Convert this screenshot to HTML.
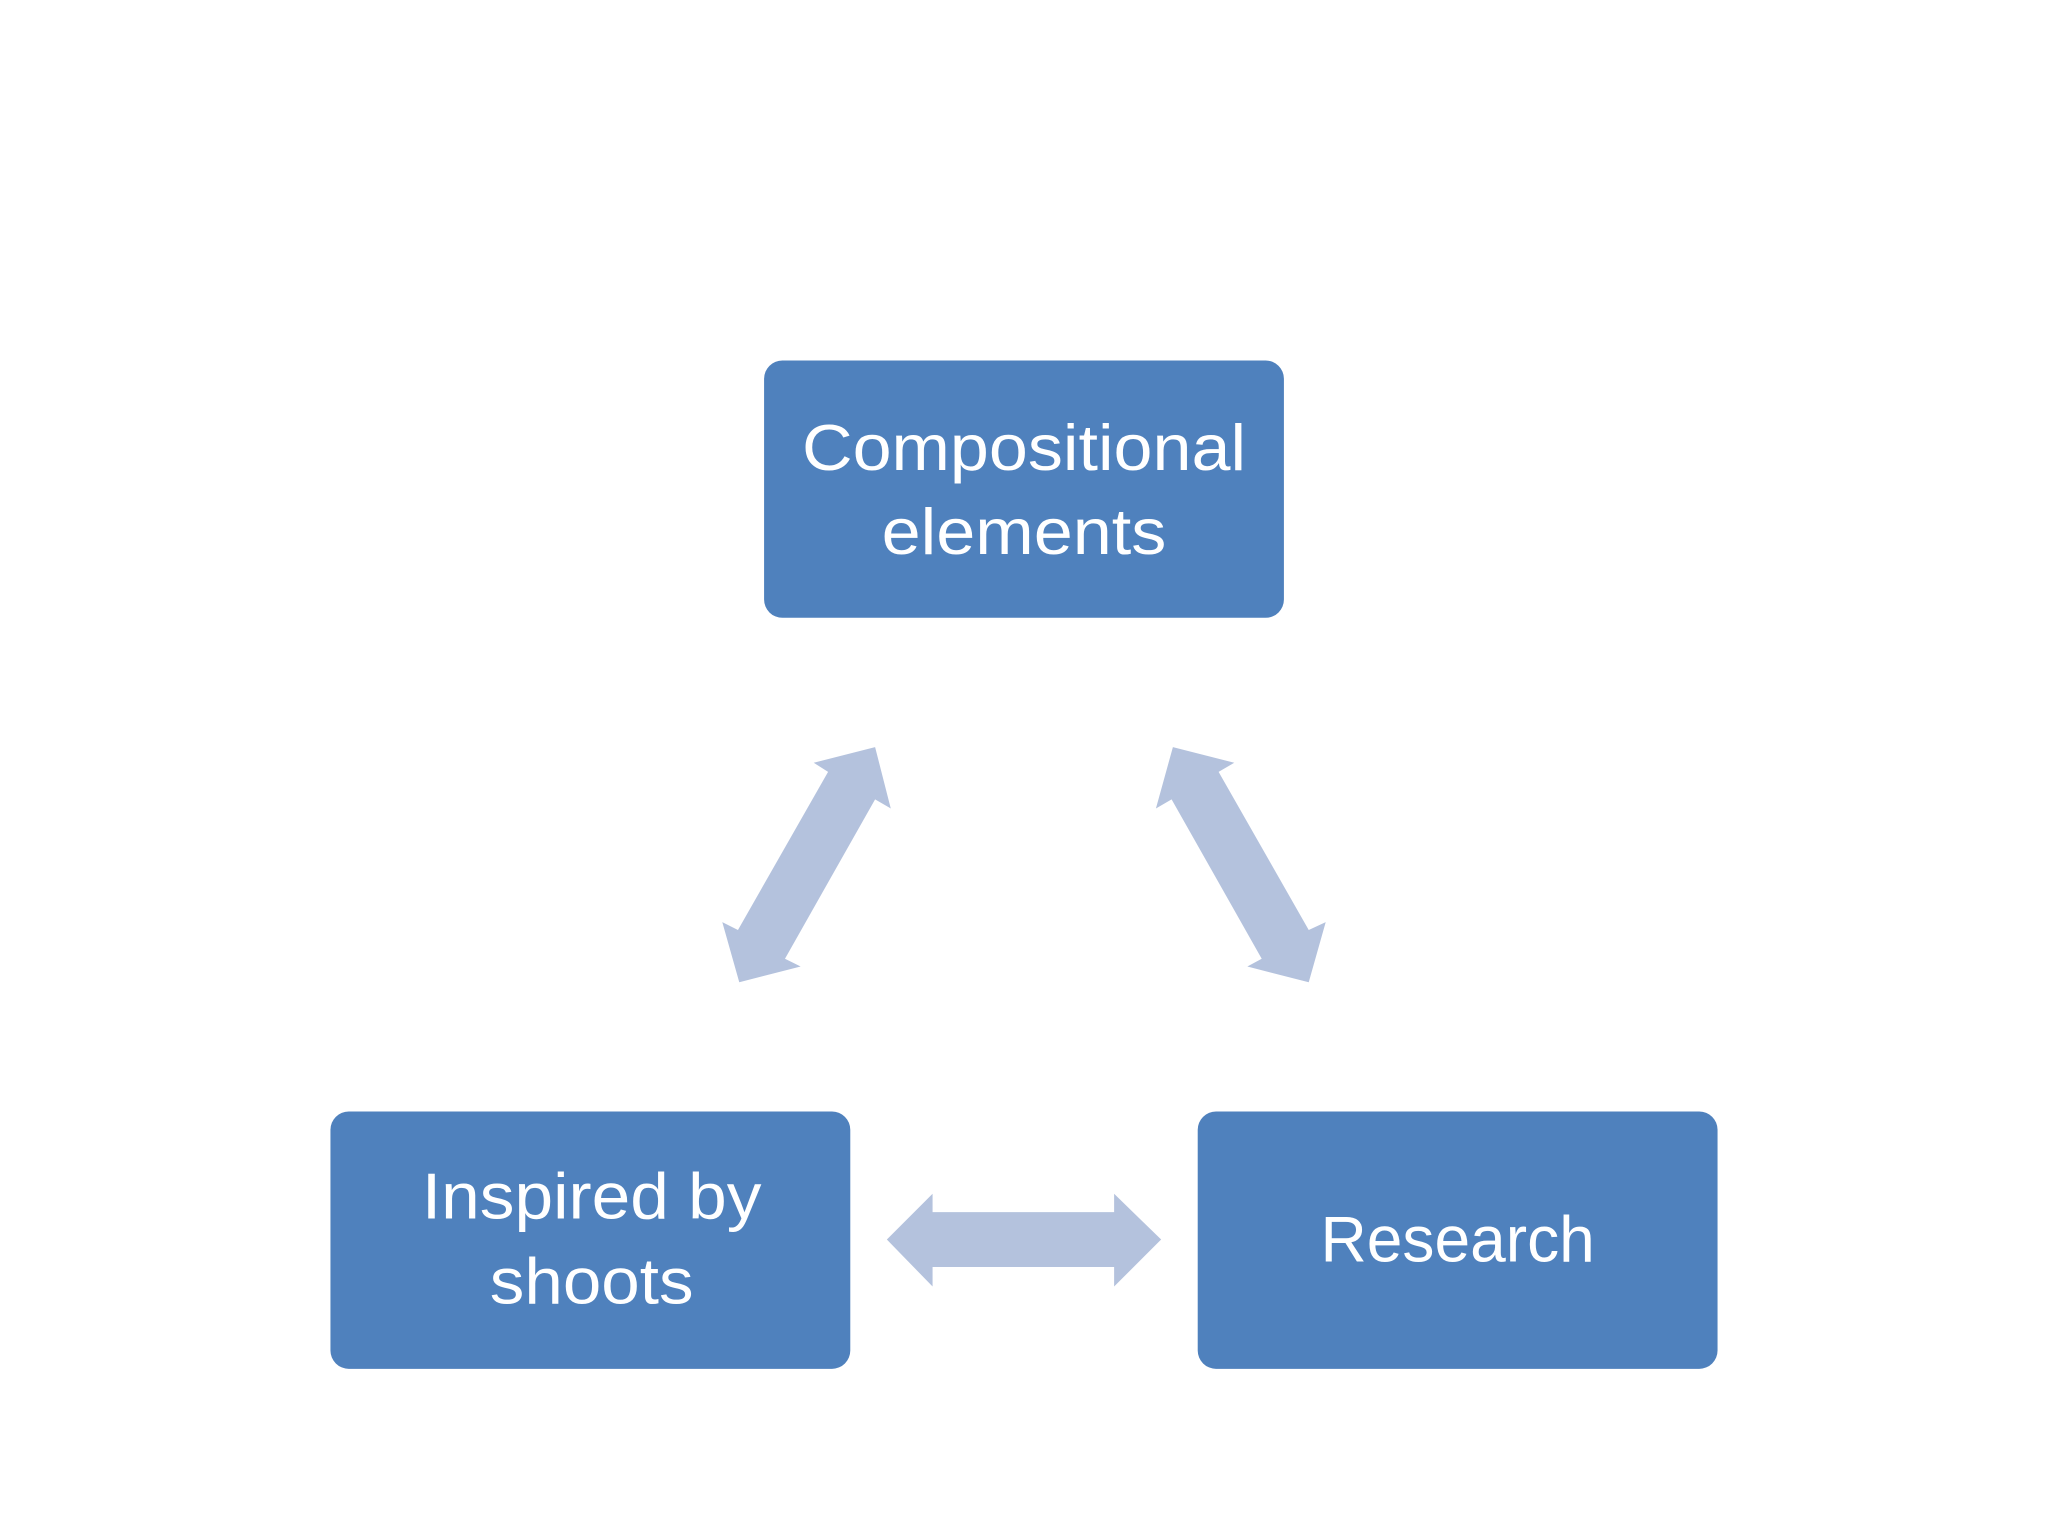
<!DOCTYPE html>
<html><head><meta charset="utf-8"><style>html,body{margin:0;padding:0;background:#fff}svg{display:block}</style></head>
<body>
<svg width="2048" height="1536" viewBox="0 0 1568 1176" xmlns="http://www.w3.org/2000/svg">
<rect width="1568" height="1176" fill="#fff"/>
<rect x="585" y="276" width="398" height="197" rx="14" fill="#4F81BD"/>
<rect x="253" y="851" width="398" height="197" rx="14" fill="#4F81BD"/>
<rect x="917" y="851" width="398" height="197" rx="14" fill="#4F81BD"/>
<g fill="#B4C2DD">
<polygon points="623,584 670,572 682,619 670,612 601,734 613,740 566,752 553,706 565,712 634,591"/>
<polygon points="945,584 898,572 885,619 897,612 966,734 955,740 1002,752 1015,706 1002,712 933,591"/>
<polygon points="679,949 714,914 714,928 853,928 853,914 889,949 853,985 853,970 714,970 714,985"/>
</g>
<g fill="#fff" font-family="Liberation Sans, sans-serif" font-size="50" text-anchor="middle">
<text x="784" y="360" textLength="340" lengthAdjust="spacingAndGlyphs">Compositional</text>
<text x="784" y="424" textLength="218" lengthAdjust="spacingAndGlyphs">elements</text>
<text x="453" y="933" textLength="260" lengthAdjust="spacingAndGlyphs">Inspired by</text>
<text x="453" y="998" textLength="156" lengthAdjust="spacingAndGlyphs">shoots</text>
<text x="1116" y="966" textLength="210" lengthAdjust="spacingAndGlyphs">Research</text>
</g>
</svg>
</body></html>
